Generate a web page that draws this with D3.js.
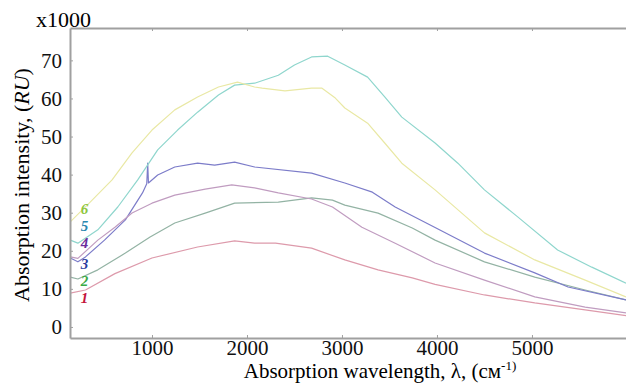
<!DOCTYPE html>
<html>
<head>
<meta charset="utf-8">
<script src="https://cdn.jsdelivr.net/npm/d3@7"></script>
<style>
  body { margin: 0; background: #fff; }
</style>
</head>
<body>
<svg id="chart" width="626" height="383" font-family="Liberation Serif"></svg>
<script>
// Spectra: [wavelength (cm-1), intensity (x1000 RU)]
var series1 = [[140,8.9],[300,9.7],[610,14.0],[1000,18.1],[1480,21.0],[1870,22.6],[2080,22.0],[2300,22.0],[2680,20.7],[3030,17.6],[3380,15.0],[3740,12.9],[3980,11.2],[4500,8.4],[5030,6.3],[5560,4.5],[5990,3.0]];
var series2 = [[140,13.1],[220,12.6],[430,15.0],[720,19.4],[980,23.6],[1240,27.3],[1560,29.9],[1870,32.5],[2330,32.8],[2680,33.9],[2900,33.3],[3030,32.0],[3380,29.9],[3740,26.0],[3980,22.8],[4500,17.1],[5030,13.1],[5560,9.7],[5990,7.1]];
var series3 = [[140,18.1],[220,17.1],[300,18.4],[500,22.8],[720,28.1],[900,35.2],[945,37.6],[955,43.0],[963,37.8],[1060,39.9],[1240,42.0],[1480,43.0],[1660,42.5],[1870,43.3],[2080,42.0],[2680,40.4],[3030,37.8],[3320,35.4],[3560,31.5],[3980,26.1],[4500,19.4],[5030,14.2],[5380,10.5],[5990,7.1]];
var series4 = [[140,18.4],[220,18.0],[430,22.8],[610,26.2],[790,29.9],[1000,32.5],[1240,34.6],[1560,36.2],[1840,37.3],[2080,36.5],[2330,35.2],[2680,33.6],[2900,31.5],[3210,26.2],[3560,22.0],[3980,16.8],[4500,12.3],[5030,7.9],[5560,5.2],[5990,3.7]];
var series5 = [[140,22.8],[220,22.0],[430,25.5],[640,31.5],[850,38.6],[1060,46.5],[1270,51.7],[1480,56.4],[1700,60.9],[1870,63.5],[2080,64.0],[2330,66.1],[2500,68.8],[2680,70.9],[2850,71.1],[3030,68.8],[3270,65.6],[3450,60.4],[3630,55.1],[3980,48.3],[4220,43.0],[4500,36.0],[4850,28.9],[5270,20.2],[5630,15.7],[5990,11.5]];
var series6 = [[140,27.6],[370,33.3],[580,38.6],[790,45.7],[1000,51.7],[1240,57.0],[1480,60.4],[1700,63.0],[1900,64.3],[2080,63.0],[2160,62.7],[2400,62.0],[2680,62.7],[2790,62.7],[2930,60.1],[3030,57.5],[3270,53.5],[3450,48.3],[3630,43.0],[3980,36.0],[4500,24.7],[5030,17.6],[5560,12.3],[5990,7.9]];

var seriesNames = ['1', '2', '3', '4', '5', '6'];
var lineColors = ['#dd9aab', '#93b3a4', '#7c7cc9', '#c09cc0', '#8fd6cd', '#e9e8a4'];
var labelColors = ['#c4143c', '#3aaa44', '#2b3c9e', '#6b2b9c', '#2b88b0', '#8dc63f'];
var xTicks = [1000, 2000, 3000, 4000, 5000];
var yTicks = [0, 10, 20, 30, 40, 50, 60, 70];

var serif = 'Liberation Serif';

var drawChart = function () {
  let svg = d3.select('#chart');
  let margin = {left: 70, right: 0, top: 28, bottom: 45};
  let width = 626, height = 383;

  let x = d3.scaleLinear().domain([137, 5990]).range([margin.left, width - margin.right]);
  let y = d3.scaleLinear().domain([-2.9, 78.5]).range([height - margin.bottom, margin.top]);

  let allSeries = [series1, series2, series3, series4, series5, series6];

  // Curves
  let line = d3.line().x(d => x(d[0])).y(d => y(d[1]));
  svg.append('g')
    .selectAll('path')
    .data(allSeries)
    .join('path')
      .attr('d', line)
      .attr('fill', 'none')
      .attr('stroke', (d, i) => lineColors[i])
      .attr('stroke-width', 1.2)
      .attr('stroke-linejoin', 'round');

  // Axes with small inward ticks
  let axisColor = '#a0a0a0';
  let bottom = svg.append('g')
    .attr('transform', `translate(0,${height - margin.bottom})`)
    .call(d3.axisBottom(x).tickValues(xTicks).tickSize(-3).tickPadding(2)
      .tickFormat(d3.format('d')).tickSizeOuter(0));
  let top = svg.append('g')
    .attr('transform', `translate(0,${margin.top})`)
    .call(d3.axisTop(x).tickValues(xTicks).tickSize(-3).tickFormat('').tickSizeOuter(0));
  let left = svg.append('g')
    .attr('transform', `translate(${margin.left},0)`)
    .call(d3.axisLeft(y).tickValues(yTicks).tickSize(-3).tickPadding(8).tickSizeOuter(0));

  [bottom, top, left].forEach(g => {
    g.attr('font-family', serif).attr('font-size', 21);
    g.select('.domain').attr('stroke', axisColor).attr('stroke-width', 2);
    g.selectAll('.tick line').attr('stroke', axisColor);
    g.selectAll('text').attr('fill', '#111');
  });

  // Multiplier
  svg.append('text')
    .attr('x', 36).attr('y', 27)
    .attr('font-family', serif).attr('font-size', 22)
    .text('x1000');

  // Axis titles
  let xt = svg.append('text')
    .attr('x', 380).attr('y', 378)
    .attr('text-anchor', 'middle')
    .attr('font-family', serif).attr('font-size', 21);
  xt.append('tspan').text('Absorption wavelength, λ, (см');
  xt.append('tspan').attr('font-size', 13).attr('dy', -8).text('-1)');

  let yt = svg.append('text')
    .attr('transform', 'translate(29,185) rotate(-90)')
    .attr('text-anchor', 'middle')
    .attr('font-family', serif).attr('font-size', 22);
  yt.append('tspan').text('Absorption intensity, (');
  yt.append('tspan').attr('font-style', 'italic').text('RU');
  yt.append('tspan').text(')');

  // Curve number labels near the left edge
  let labelY = [6.3, 10.8, 15.2, 20.7, 25.2, 29.7];
  svg.append('g')
    .selectAll('text')
    .data(seriesNames)
    .join('text')
      .attr('x', x(290))
      .attr('y', (d, i) => y(labelY[i]))
      .attr('text-anchor', 'middle')
      .attr('font-family', serif)
      .attr('font-size', 15)
      .attr('font-style', 'italic')
      .attr('font-weight', 'bold')
      .attr('fill', (d, i) => labelColors[i])
      .text(d => d);
};

document.addEventListener('DOMContentLoaded', function () {
  drawChart();
}, false);
</script>
</body>
</html>
